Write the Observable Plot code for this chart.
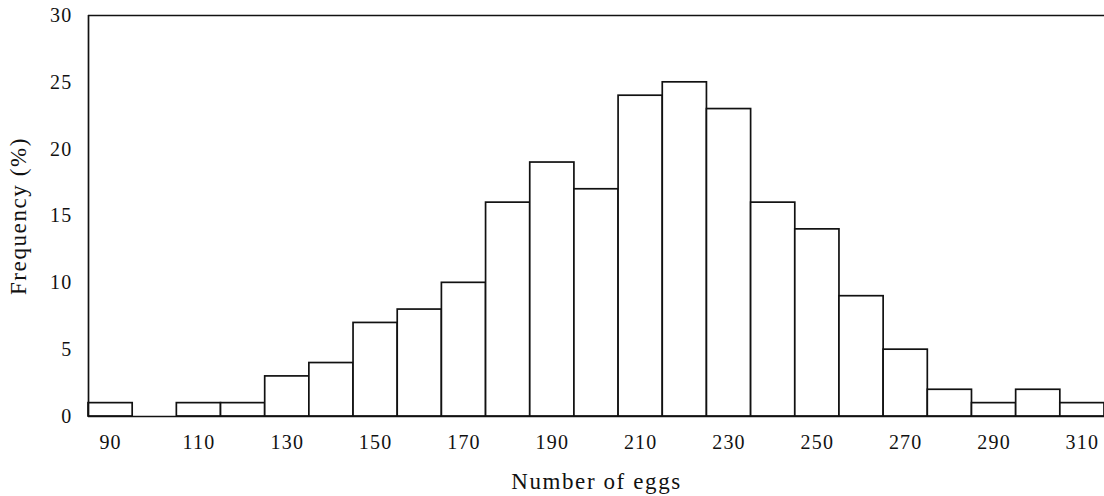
<!DOCTYPE html>
<html>
<head>
<meta charset="utf-8">
<script src="https://cdn.jsdelivr.net/npm/d3@7"></script>
<script src="https://cdn.jsdelivr.net/npm/@observablehq/plot@0.6"></script>
<style>
  html, body { margin: 0; padding: 0; background: #fff; }
  svg { display: block; }
  g[aria-label="x-axis tick label"] text, g[aria-label="y-axis tick label"] text { font-size: 20px; letter-spacing: 1.2px; }
  g.axis-title text { font-size: 23px; letter-spacing: 1.6px; }
</style>
</head>
<body>
<div id="chart"></div>
<script>
const binCenters = [90, 100, 110, 120, 130, 140, 150, 160, 170, 180, 190, 200, 210, 220, 230, 240, 250, 260, 270, 280, 290, 300, 310];
const frequency = [1, 0, 1, 1, 3, 4, 7, 8, 10, 16, 19, 17, 24, 25, 23, 16, 14, 9, 5, 2, 1, 2, 1];
const xTicks = [90, 110, 130, 150, 170, 190, 210, 230, 250, 270, 290, 310];
const yTicks = [0, 5, 10, 15, 20, 25, 30];
const binWidth = 10;

const data = binCenters.map((c, i) => ({x1: c - binWidth / 2, x2: c + binWidth / 2, y: frequency[i]}));

const chart = Plot.plot({
  width: 1104,
  height: 496,
  marginLeft: 88,
  marginRight: 0,
  marginTop: 15,
  marginBottom: 80,
  style: {fontFamily: "'Liberation Serif', 'DejaVu Serif', serif", fontSize: "19px", color: "#111", background: "#fff"},
  x: {domain: [85, 315], ticks: xTicks, label: null},
  y: {domain: [0, 30], ticks: yTicks, label: null},
  marks: [
    Plot.rectY(data, {x1: "x1", x2: "x2", y: "y", fill: "white", stroke: "#111", strokeWidth: 1.7}),
    Plot.ruleY([0, 30], {stroke: "#111", strokeWidth: 1.7}),
    Plot.ruleX([85], {stroke: "#111", strokeWidth: 1.7}),
    Plot.axisX({ticks: xTicks, tickSize: 0, tickPadding: 18, label: null}),
    Plot.axisY({ticks: yTicks, tickSize: 0, tickPadding: 16, label: null}),
    Plot.text(["Number of eggs"], {frameAnchor: "bottom", dy: 72, className: "axis-title"}),
    Plot.text(["Frequency (%)"], {frameAnchor: "left", dx: -70, rotate: -90, textAnchor: "middle", className: "axis-title"})
  ]
});
document.getElementById("chart").appendChild(chart);
</script>
</body>
</html>
